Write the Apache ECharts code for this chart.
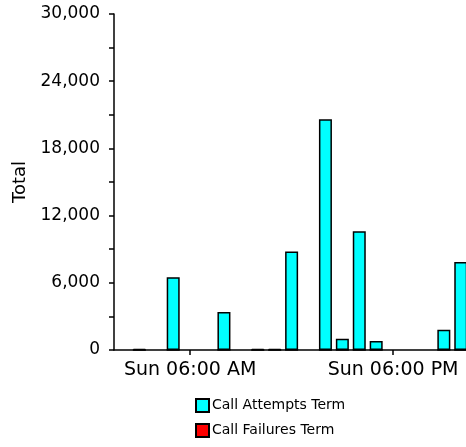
<!DOCTYPE html>
<html>
<head>
<meta charset="utf-8">
<script src="https://cdn.jsdelivr.net/npm/echarts@6/dist/echarts.min.js"></script>
<style>html,body{margin:0;padding:0;background:#fff}#c{width:466px;height:447px}</style>
</head>
<body>
<div id="c"></div>
<script>
// Hour of day (Sunday) for each bar
var hours = [3, 5, 8, 10, 11, 12, 14, 15, 16, 17, 21, 22];
var callAttemptsTerm = [100, 6500, 3400, 100, 100, 8800, 20600, 1000, 10600, 800, 1800, 7850];
var callFailuresTerm = [0, 0, 0, 0, 0, 0, 0, 0, 0, 0, 0, 0];
var xTickHours = [6, 18];
var xTickLabels = ['Sun 06:00 AM', 'Sun 06:00 PM'];
var yTicks = [0, 6000, 12000, 18000, 24000, 30000];

var font = 'DejaVu Sans';
var chart = echarts.init(document.getElementById('c'), null, {renderer: 'canvas'});
function pairs(vals) { return hours.map(function (h, i) { return [h, vals[i]]; }); }

chart.setOption({
  animation: false,
  backgroundColor: '#fff',
  grid: {left: 114, top: 14, bottom: 97, right: 0, containLabel: false},
  legend: {
    orient: 'vertical', left: 190, top: 393, itemGap: 10,
    itemWidth: 13, itemHeight: 13, icon: 'rect',
    textStyle: {fontFamily: font, fontSize: 14, color: '#000', padding: [0, 0, 0, -2]},
    data: ['Call Attempts Term', 'Call Failures Term']
  },
  xAxis: {
    type: 'value', min: 1.5, max: 22.31,
    splitLine: {show: false},
    axisLine: {lineStyle: {color: '#000', width: 1.5}},
    axisTick: {show: true, length: 5, customValues: xTickHours, lineStyle: {color: '#000', width: 1.5}},
    axisLabel: {
      customValues: xTickHours, margin: 11,
      fontFamily: font, fontSize: 19, color: '#000',
      formatter: function (v) { var i = xTickHours.indexOf(v); return i >= 0 ? xTickLabels[i] : ''; }
    }
  },
  yAxis: {
    type: 'value', min: 0, max: 30000, interval: 6000,
    name: 'Total', nameLocation: 'middle', nameGap: 84,
    nameTextStyle: {fontFamily: font, fontSize: 18, color: '#000'},
    splitLine: {show: false},
    axisLine: {show: true, lineStyle: {color: '#000', width: 1.5}},
    axisTick: {show: true, length: 5, lineStyle: {color: '#000', width: 1.5}},
    minorTick: {show: true, splitNumber: 2, length: 5, lineStyle: {color: '#000', width: 1.5}},
    axisLabel: {
      margin: 14, fontFamily: font, fontSize: 17, color: '#000',
      customValues: yTicks,
      formatter: function (v) { return v.toLocaleString('en-US'); }
    }
  },
  series: [
    {
      name: 'Call Attempts Term', type: 'bar', barWidth: 13, barGap: '-100%',
      itemStyle: {color: '#00FFFF', borderColor: '#000', borderWidth: 1.5},
      data: pairs(callAttemptsTerm)
    },
    {
      name: 'Call Failures Term', type: 'bar', barWidth: 13, barGap: '-100%',
      itemStyle: {color: '#FF0000', borderColor: '#000', borderWidth: 1},
      data: pairs(callFailuresTerm)
    }
  ]
});
</script>
</body>
</html>
